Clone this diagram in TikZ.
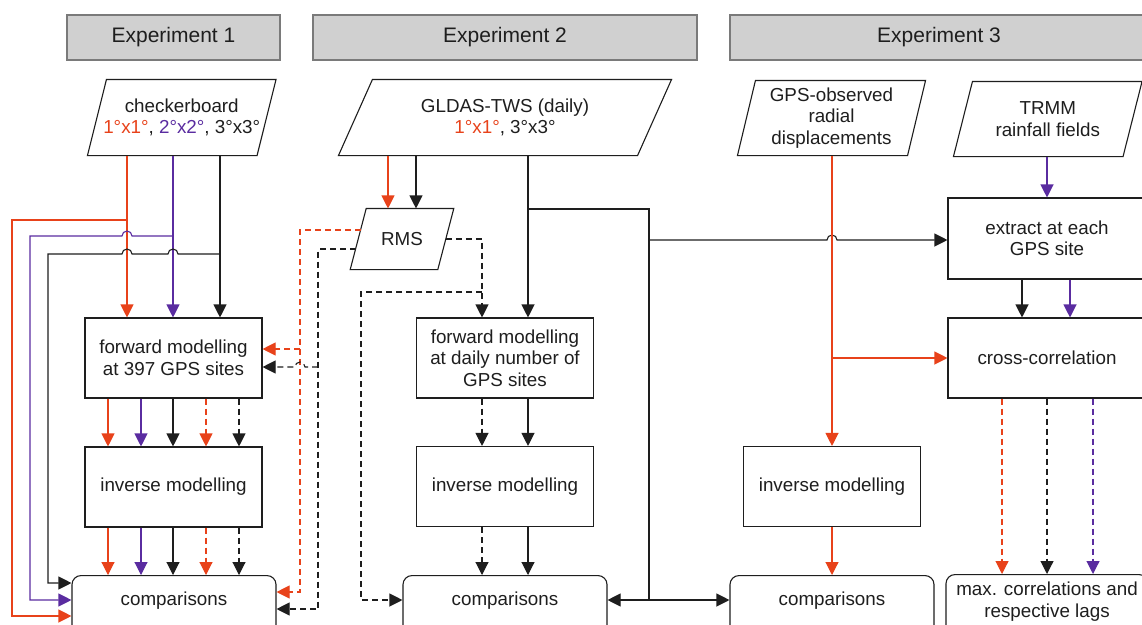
\documentclass[tikz,border=0pt]{standalone}
\usepackage{fontspec}
\setmainfont{Liberation Sans}
\usetikzlibrary{arrows.meta,calc}
\definecolor{myred}{HTML}{E8421A}
\definecolor{mypurple}{HTML}{5A2CA0}
\definecolor{hdrfill}{HTML}{D0D0D0}
\definecolor{hdrline}{HTML}{7A7A7A}
\definecolor{ink}{HTML}{1E1E1E}
\newcommand\drawpara[2]{\draw ([xshift=#2]#1.north west) -- ([xshift=#2]#1.north east) -- ([xshift=-#2]#1.south east) -- ([xshift=-#2]#1.south west) -- cycle;}
\begin{document}
\begin{tikzpicture}[x=1pt,y=-1pt,color=ink,line width=1.1pt,
  every node/.style={font=\fontsize{18.8}{21.5}\selectfont, text=ink, align=center, inner sep=0pt},
  hdr/.style={draw=hdrline, fill=hdrfill, line width=1.3pt, minimum height=45pt, font=\fontsize{21}{24}\selectfont},
  box/.style={draw, minimum width=177pt, minimum height=80pt},
  rbox/.style={draw, rounded corners=9pt, minimum width=204pt, anchor=north, text height=29.5pt, text depth=38pt},
  arr/.style={-{Triangle[length=13pt,width=13pt]}},
  r/.style={color=myred},
  p/.style={color=mypurple},
  dsh/.style={dash pattern=on 6pt off 4pt}]
\useasboundingbox (0,0) rectangle (1142,624);
\clip (0,0) rectangle (1142,624);
\fill[white] (0,0) rectangle (1142,624);

% headers
\node[hdr, minimum width=213pt] (h1) at (173.5,37.5) {Experiment 1};
\node[hdr, minimum width=384pt] (h2) at (505,37.5) {Experiment 2};
\node[hdr, minimum width=418pt] (h3) at (939,37.5) {Experiment 3};

% input parallelograms
\node[minimum width=168.5pt, minimum height=75pt] (cb) at (181.75,117.5) {checkerboard\\ \textcolor{myred}{1°x1°}, \textcolor{mypurple}{2°x2°}, 3°x3°};
\drawpara{cb}{9.5pt}
\node[minimum width=298pt, minimum height=75pt] (gl) at (505,117.5) {GLDAS-TWS (daily)\\ \textcolor{myred}{1°x1°}, 3°x3°};
\drawpara{gl}{17pt}
\node[minimum width=86.5pt, minimum height=60pt] (rms) at (402,239) {RMS};
\drawpara{rms}{8pt}
\node[minimum width=169pt, minimum height=74pt] (gps) at (831.5,118) {GPS-observed\\radial\\displacements};
\drawpara{gps}{9pt}
\node[minimum width=168.5pt, minimum height=74pt] (trmm) at (1047.75,119) {TRMM\\rainfall fields};
\drawpara{trmm}{9.5pt}

% process boxes
\node[box] (fm1) at (173.5,358) {forward modelling\\at 397 GPS sites};
\node[box] (inv1) at (173.5,487) {inverse modelling};
\node[rbox] (cmp1) at (174,575) {comparisons};
\node[box] (fm2) at (505,358) {forward modelling\\at daily number of\\GPS sites};
\node[box] (inv2) at (505,486.5) {inverse modelling};
\node[rbox] (cmp2) at (505,575) {comparisons};
\node[box] (inv3) at (832,486.5) {inverse modelling};
\node[rbox] (cmp3) at (832,575) {comparisons};
\node[box, minimum width=198pt, minimum height=81pt] (ext) at (1047,238.5) {extract at each\\GPS site};
\node[box, minimum width=198pt] (xc) at (1047,358) {cross-correlation};
\node[rbox, minimum width=202pt, text height=42.5pt, text depth=28.5pt] (mx) at (1047,574) {max. correlations and\\respective lags};

% Experiment 1
\draw[arr,r] (cb.south -| 127,0) -- (fm1.north -| 127,0);
\draw[arr,p] (cb.south -| 173,0) -- (fm1.north -| 173,0);
\draw[arr] (cb.south -| 220,0) -- (fm1.north -| 220,0);
\draw[arr,r] (127,220) -- (12,220) -- (12,616) -- (cmp1.west |- 0,616);
\draw[arr,p] (173,236) -- (132,236) arc[start angle=0,end angle=180,radius=5pt] -- (30,236) -- (30,600) -- (cmp1.west |- 0,600);
\draw[arr] (220,254) -- (178,254) arc[start angle=0,end angle=180,radius=5pt] -- (132,254) arc[start angle=0,end angle=180,radius=5pt] -- (48,254) -- (48,583) -- (cmp1.west |- 0,583);

\draw[arr,r] (fm1.south -| 108,0) -- (inv1.north -| 108,0);
\draw[arr,p] (fm1.south -| 141,0) -- (inv1.north -| 141,0);
\draw[arr] (fm1.south -| 173,0) -- (inv1.north -| 173,0);
\draw[arr,r,dsh] (fm1.south -| 206,0) -- (inv1.north -| 206,0);
\draw[arr,dsh] (fm1.south -| 239,0) -- (inv1.north -| 239,0);

\draw[arr,r] (inv1.south -| 108,0) -- (cmp1.north -| 108,0);
\draw[arr,p] (inv1.south -| 141,0) -- (cmp1.north -| 141,0);
\draw[arr] (inv1.south -| 173,0) -- (cmp1.north -| 173,0);
\draw[arr,r,dsh] (inv1.south -| 206,0) -- (cmp1.north -| 206,0);
\draw[arr,dsh] (inv1.south -| 239,0) -- (cmp1.north -| 239,0);

% RMS
\draw[arr,r] (gl.south -| 388,0) -- (rms.north -| 388,0);
\draw[arr] (gl.south -| 416,0) -- (rms.north -| 416,0);
\draw[arr,r,dsh] ($(rms.west)+(2.4,-9)$) -- (300,230) -- (300,592) -- (cmp1.east |- 0,592);
\draw[arr,r,dsh] (300,349) -- (fm1.east |- 0,349);
\draw[arr,dsh] ($(rms.west)+(-2.7,10)$) -- (318,249) -- (318,609) -- (cmp1.east |- 0,609);
\draw[arr,dsh] (318,367) -- (305,367) arc[start angle=0,end angle=180,radius=5pt] -- (fm1.east |- 0,367);
\draw[arr,dsh] (rms.east) -- (482,239) -- (fm2.north -| 482,0);
\draw[arr,dsh] (482,292) -- (361,292) -- (361,600) -- (cmp2.west |- 0,600);

% Experiment 2
\draw[arr] (gl.south -| 528,0) -- (fm2.north -| 528,0);
\draw (528,209) -- (649,209) -- (649,600);
\draw[arr] (649,600) -- (cmp2.east |- 0,600);
\draw[arr] (649,600) -- (cmp3.west |- 0,600);
\draw[arr] (649,240) -- (827,240) arc[start angle=180,end angle=0,radius=5pt] -- (ext.west |- 0,240);
\draw[arr,dsh] (fm2.south -| 482,0) -- (inv2.north -| 482,0);
\draw[arr] (fm2.south -| 528,0) -- (inv2.north -| 528,0);
\draw[arr,dsh] (inv2.south -| 482,0) -- (cmp2.north -| 482,0);
\draw[arr] (inv2.south -| 528,0) -- (cmp2.north -| 528,0);

% Experiment 3
\draw[arr,r] (gps.south -| 832,0) -- (inv3.north -| 832,0);
\draw[arr,r] (832,358) -- (xc.west |- 0,358);
\draw[arr,r] (inv3.south -| 832,0) -- (cmp3.north -| 832,0);
\draw[arr,p] (trmm.south -| 1047,0) -- (ext.north -| 1047,0);
\draw[arr] (ext.south -| 1022,0) -- (xc.north -| 1022,0);
\draw[arr,p] (ext.south -| 1070,0) -- (xc.north -| 1070,0);
\draw[arr,r,dsh] (xc.south -| 1002,0) -- (mx.north -| 1002,0);
\draw[arr,dsh] (xc.south -| 1047,0) -- (mx.north -| 1047,0);
\draw[arr,p,dsh] (xc.south -| 1093,0) -- (mx.north -| 1093,0);
\end{tikzpicture}
\end{document}
